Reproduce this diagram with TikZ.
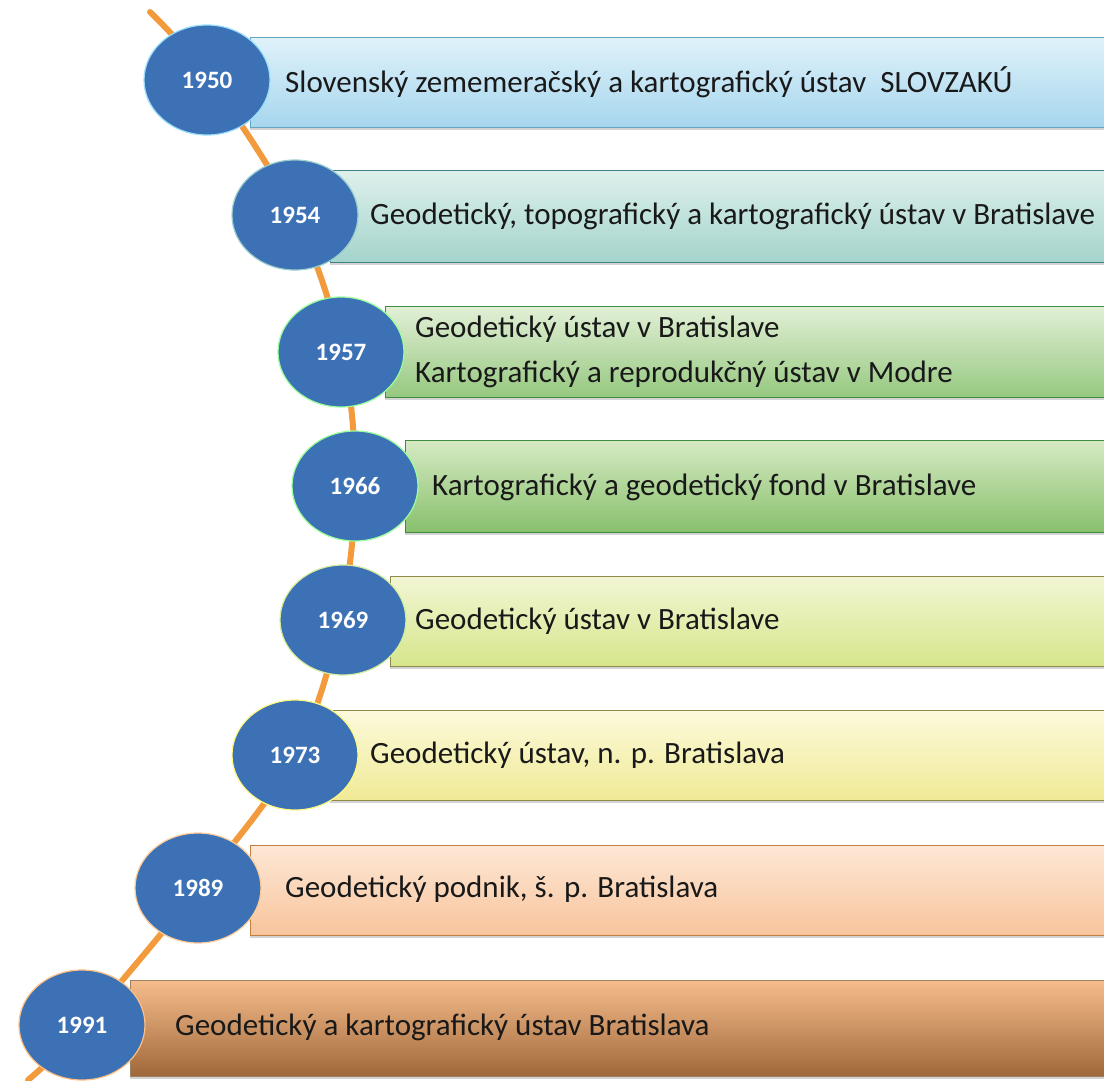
\documentclass[tikz,border=0pt]{standalone}
\usepackage{fontspec}
\setmainfont{Carlito}
\usetikzlibrary{shadows,shapes.geometric}
\definecolor{cblue}{HTML}{3C72B5}
\definecolor{corange}{HTML}{F39A3C}
\tikzset{
  bar/.style={draw=#1!50!gray, line width=0.8pt,
     drop shadow={shadow xshift=0pt, shadow yshift=-3pt, opacity=0.35}},
  yearc/.style={ellipse, fill=cblue, draw=#1, line width=1.2pt, minimum width=126pt, minimum height=110pt,
     font=\fontsize{25}{30}\selectfont\bfseries, text=white, inner sep=0pt},
  bartext/.style={anchor=west, font=\fontsize{31}{36}\selectfont, text=black!90, inner sep=0pt, align=left}
}
\begin{document}
\begin{tikzpicture}[x=1pt,y=-1pt]
\useasboundingbox (0,0) rectangle (1104,1080);
% timeline curve
\draw[corange, line width=6pt, line cap=round] plot[smooth, tension=0.6] coordinates
  {(150,12) (210,80) (295,215) (342,352) (355,486) (340,620) (295,755) (198,888) (82,1027) (28,1080)};
% bars
\shade[bar=cyan, top color={rgb,255:red,224;green,242;blue,250}, bottom color={rgb,255:red,166;green,214;blue,238}] (250,37) rectangle (1110,127);
\shade[bar=teal, top color={rgb,255:red,222;green,240;blue,236}, bottom color={rgb,255:red,164;green,212;blue,204}] (330,170) rectangle (1110,262);
\shade[bar=green!60!black, top color={rgb,255:red,226;green,240;blue,214}, bottom color={rgb,255:red,150;green,200;blue,128}] (385,306) rectangle (1110,397);
\shade[bar=green!60!black, top color={rgb,255:red,214;green,234;blue,196}, bottom color={rgb,255:red,136;green,192;blue,108}] (405,440) rectangle (1110,532);
\shade[bar=olive, top color={rgb,255:red,242;green,246;blue,212}, bottom color={rgb,255:red,214;green,230;blue,140}] (390,576) rectangle (1110,666);
\shade[bar=olive, top color={rgb,255:red,252;green,250;blue,220}, bottom color={rgb,255:red,240;green,234;blue,150}] (330,710) rectangle (1110,800);
\shade[bar=orange, top color={rgb,255:red,253;green,232;blue,214}, bottom color={rgb,255:red,248;green,196;blue,156}] (250,845) rectangle (1110,935);
\shade[bar=brown, top color={rgb,255:red,246;green,188;blue,140}, bottom color={rgb,255:red,160;green,104;blue,58}] (130,980) rectangle (1110,1076);
% circles
\node[yearc=cyan!40] (y1950) at (207,80) {1950};
\node[yearc=teal!40] (y1954) at (295,215) {1954};
\node[yearc=green!40] (y1957) at (341,352) {1957};
\node[yearc=green!40] (y1966) at (355,486) {1966};
\node[yearc=yellow!60!green!40] (y1969) at (343,620) {1969};
\node[yearc=yellow!50] (y1973) at (295,755) {1973};
\node[yearc=orange!40] (y1989) at (198,888) {1989};
\node[yearc=orange!50] (y1991) at (82,1025) {1991};
% texts
\node[bartext] (t1950) at (285,82) {Slovenský zememeračský a kartografický ústav \ SLOVZAKÚ};
\node[bartext] (t1954) at (370,216) {Geodetický, topografický a kartografický ústav v Bratislave};
\node[bartext] (t1957a) at (415,329) {Geodetický ústav v Bratislave};
\node[bartext] (t1957b) at (415,374) {Kartografický a reprodukčný ústav v Modre};
\node[bartext] (t1966) at (432,487) {Kartografický a geodetický fond v Bratislave};
\node[bartext] (t1969) at (415,621) {Geodetický ústav v Bratislave};
\node[bartext] (t1973) at (370,755) {Geodetický ústav, n. p. Bratislava};
\node[bartext] (t1989) at (285,889) {Geodetický podnik, š. p. Bratislava};
\node[bartext] (t1991) at (175,1027) {Geodetický a kartografický ústav Bratislava};
\end{tikzpicture}
\end{document}
